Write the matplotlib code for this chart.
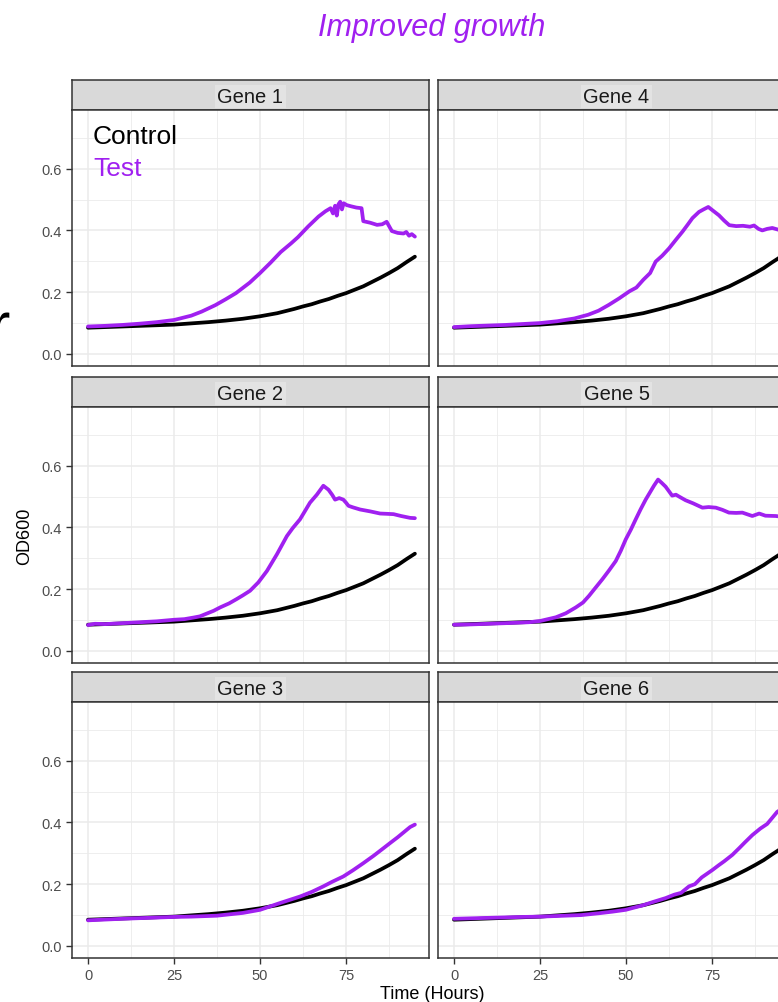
import matplotlib
matplotlib.use("Agg")
import matplotlib.pyplot as plt
from matplotlib.ticker import MultipleLocator

plt.rcParams["font.family"] = ["Liberation Sans", "DejaVu Sans"]

W, H = 778, 1003
PURPLE = "#A020F0"

# ---- data ----
control_t = [0, 5, 10, 15, 20, 25, 30, 35, 40, 45, 50, 55, 60, 62.5, 65, 67.5, 70,
             72.5, 75, 77.5, 80, 82.5, 85, 87.5, 90, 92.5, 95]
control_od = [0.085, 0.087, 0.089, 0.091, 0.093, 0.095, 0.099, 0.103, 0.108, 0.114,
              0.122, 0.132, 0.146, 0.154, 0.161, 0.170, 0.178, 0.188, 0.197, 0.208,
              0.219, 0.233, 0.247, 0.262, 0.278, 0.297, 0.315]

gene1_t = [0, 5, 10, 15, 20, 25, 30, 33, 37, 40, 43, 47, 50, 53, 56, 59, 61, 64, 67, 69,
           70.5, 71.2, 71.8, 72.3, 72.8, 73.3, 73.8, 74.3, 75.2, 76.5, 78, 79.5, 80, 82,
           84, 85.5, 86.8, 88.3, 90, 91.7, 92.5, 93.3, 94.1, 95]
gene1_od = [0.089, 0.091, 0.094, 0.098, 0.103, 0.110, 0.124, 0.137, 0.158, 0.177, 0.197,
            0.231, 0.262, 0.295, 0.330, 0.358, 0.378, 0.413, 0.445, 0.462, 0.472, 0.455,
            0.480, 0.448, 0.485, 0.493, 0.468, 0.488, 0.482, 0.478, 0.474, 0.472, 0.430,
            0.425, 0.418, 0.420, 0.428, 0.398, 0.392, 0.390, 0.395, 0.383, 0.388, 0.380]

gene2_t = [0, 2, 5, 10, 15, 20, 25, 28, 30.6, 32.5, 34.5, 36.5, 38.4, 41, 43.2, 45, 47.1,
           49.5, 52, 54.9, 57.8, 59.5, 61.6, 63, 64.5, 66.5, 68.4, 69.9, 71, 71.8, 73,
           74.2, 75, 75.7, 77, 79.1, 82, 84.9, 87, 88.8, 91, 93.6, 95]
gene2_od = [0.084, 0.088, 0.087, 0.090, 0.093, 0.096, 0.101, 0.103, 0.108, 0.112, 0.121,
            0.130, 0.141, 0.154, 0.168, 0.180, 0.195, 0.222, 0.259, 0.313, 0.372, 0.398,
            0.426, 0.452, 0.480, 0.506, 0.535, 0.522, 0.505, 0.490, 0.495, 0.490, 0.480,
            0.470, 0.465, 0.458, 0.452, 0.445, 0.444, 0.443, 0.437, 0.431, 0.430]

gene3_t = [0, 10, 20, 25, 30, 37.4, 45, 50, 55.8, 61.6, 65, 68.4, 71, 74.2, 77, 80, 83,
           85.8, 88, 90, 93.6, 95]
gene3_od = [0.083, 0.088, 0.092, 0.094, 0.095, 0.098, 0.107, 0.117, 0.139, 0.160, 0.175,
            0.193, 0.208, 0.225, 0.245, 0.268, 0.292, 0.316, 0.335, 0.352, 0.385, 0.393]

gene4_t = [0, 5, 10, 15, 20, 25, 30, 35, 39, 42, 45, 48, 51, 53, 55, 57, 58.6, 60.5, 62.5,
           64.5, 66.4, 68, 69.3, 71.2, 72.5, 73.9, 75.5, 77, 78.5, 80, 82, 84, 86, 87.2,
           88.5, 89.6, 91, 92.5, 95]
gene4_od = [0.087, 0.090, 0.092, 0.094, 0.097, 0.100, 0.106, 0.115, 0.127, 0.140, 0.159,
            0.180, 0.203, 0.215, 0.240, 0.262, 0.299, 0.318, 0.342, 0.370, 0.396, 0.420,
            0.440, 0.460, 0.468, 0.476, 0.462, 0.449, 0.432, 0.417, 0.414, 0.415, 0.412,
            0.416, 0.405, 0.400, 0.405, 0.408, 0.400]

gene5_t = [0, 5, 10, 15, 21.8, 25, 29.6, 32.5, 35.4, 37.5, 39.2, 41, 43.1, 45, 47, 48.5,
           49.9, 51.4, 52.8, 54.2, 55.7, 58.1, 59.3, 60.3, 61.5, 63.4, 64.5, 65.4, 67.3,
           69.5, 72.2, 74, 76.1, 78, 79.9, 82, 83.8, 86.7, 88.7, 90.5, 93.5, 95]
gene5_od = [0.085, 0.086, 0.088, 0.090, 0.093, 0.097, 0.109, 0.122, 0.141, 0.157, 0.178,
            0.203, 0.232, 0.260, 0.291, 0.325, 0.361, 0.393, 0.426, 0.458, 0.490, 0.535,
            0.555, 0.545, 0.532, 0.503, 0.506, 0.500, 0.488, 0.478, 0.464, 0.466, 0.464,
            0.457, 0.448, 0.447, 0.448, 0.437, 0.445, 0.438, 0.437, 0.435]

gene6_t = [0, 10, 20, 25, 30, 37, 42.2, 46, 49.9, 55, 58, 61.5, 64, 66, 68.3, 70, 72,
           75.1, 77, 78.5, 80.9, 83, 84.5, 86.7, 89, 91, 92.5, 93.9, 95]
gene6_od = [0.088, 0.091, 0.094, 0.095, 0.097, 0.100, 0.106, 0.111, 0.117, 0.132, 0.143,
            0.155, 0.166, 0.172, 0.193, 0.200, 0.222, 0.246, 0.262, 0.274, 0.295, 0.318,
            0.335, 0.359, 0.380, 0.395, 0.415, 0.434, 0.442]

gene_names = ["Gene 1", "Gene 2", "Gene 3", "Gene 4", "Gene 5", "Gene 6"]
gene_t = [gene1_t, gene2_t, gene3_t, gene4_t, gene5_t, gene6_t]
gene_od = [gene1_od, gene2_od, gene3_od, gene4_od, gene5_od, gene6_od]

x_ticks = [0, 25, 50, 75]
y_ticks = [0.0, 0.2, 0.4, 0.6]


def px_axes(fig, left, top, width, height):
    return fig.add_axes([left / W, 1 - (top + height) / H, width / W, height / H])


fig = plt.figure(figsize=(W / 100, H / 100), dpi=100)

col_left = [72, 438]
panel_w = 357
row_top = [81, 378, 673]
strip_h = 30
panel_h = 256

for idx, name in enumerate(gene_names):
    col, row = divmod(idx, 3)
    left, top = col_left[col], row_top[row]

    strip = px_axes(fig, left, top, panel_w, strip_h)
    strip.set_facecolor("#D9D9D9")
    strip.set_xticks([])
    strip.set_yticks([])
    for sp in strip.spines.values():
        sp.set_color("#333333")
        sp.set_linewidth(1.1)
    strip.text(0.5, 0.45, name, ha="center", va="center", fontsize=14.5, color="#1A1A1A",
               transform=strip.transAxes,
               bbox=dict(boxstyle="square,pad=0.12", facecolor="#E3E3E3", edgecolor="none"))

    ax = px_axes(fig, left, top + strip_h, panel_w, panel_h)
    ax.set_xlim(-4.65, 99.1)
    ax.set_ylim(-0.039, 0.79)
    ax.xaxis.set_major_locator(MultipleLocator(25))
    ax.xaxis.set_minor_locator(MultipleLocator(12.5))
    ax.yaxis.set_major_locator(MultipleLocator(0.2))
    ax.yaxis.set_minor_locator(MultipleLocator(0.1))
    ax.grid(which="major", color="#EBEBEB", linewidth=1.1)
    ax.grid(which="minor", color="#EBEBEB", linewidth=0.6)
    ax.set_axisbelow(True)
    for sp in ax.spines.values():
        sp.set_color("#333333")
        sp.set_linewidth(1.1)
    ax.tick_params(which="minor", length=0)
    ax.tick_params(which="major", length=4, width=1.0, color="#333333",
                   labelcolor="#4D4D4D", labelsize=10.5, pad=3.5)

    if col == 0:
        ax.set_yticks(y_ticks)
        ax.set_yticklabels([f"{v:.1f}" for v in y_ticks])
    else:
        ax.tick_params(axis="y", which="major", length=0, labelleft=False)
    if row == 2:
        ax.set_xticks(x_ticks)
        ax.set_xticklabels([str(v) for v in x_ticks])
    else:
        ax.tick_params(axis="x", which="major", length=0, labelbottom=False)

    ax.plot(control_t, control_od, color="black", linewidth=2.7,
            solid_capstyle="round", solid_joinstyle="round")
    ax.plot(gene_t[idx], gene_od[idx], color=PURPLE, linewidth=2.7,
            solid_capstyle="round", solid_joinstyle="round")

    if idx == 0:
        ax.text((93 - left) / panel_w, 1 - (137 - top - strip_h) / panel_h, "Control",
                transform=ax.transAxes, ha="left", va="center", fontsize=19, color="black")
        ax.text((93 - left) / panel_w, 1 - (169 - top - strip_h) / panel_h, "Test",
                transform=ax.transAxes, ha="left", va="center", fontsize=19, color=PURPLE)

fig.text(432 / W, 1 - 28 / H, "Improved growth", ha="center", va="center",
         fontsize=22, color=PURPLE, style="italic")
fig.text(25 / W, 1 - 536 / H, "OD600", ha="center", va="center", rotation=90,
         fontsize=13, color="black")
fig.text(432 / W, 1 - 986 / H, "Time (Hours)", ha="center", va="top",
         fontsize=13, color="black")
# clipped piece of a label at the far left edge
fig.text(10.5 / W, 1 - 345 / H, "r", ha="right", va="baseline", fontsize=44, color="black")

fig.savefig("out.png", dpi=100)
